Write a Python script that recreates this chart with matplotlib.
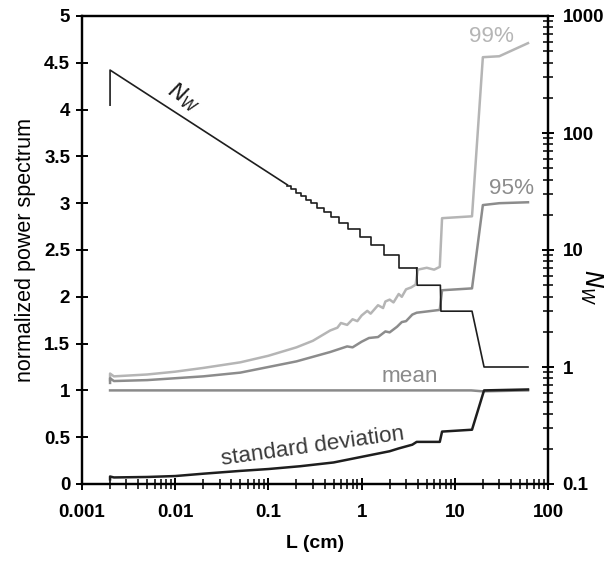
import matplotlib

matplotlib.use("Agg")

import matplotlib.pyplot as plt
from matplotlib.ticker import FixedLocator, LogLocator, NullFormatter

# ---- data ----
# 99% level of the normalized power spectrum
p99_L = [0.002, 0.002, 0.0022, 0.005, 0.01, 0.02, 0.05, 0.1, 0.2, 0.3, 0.46,
         0.55, 0.6, 0.7, 0.8, 0.9, 1.0, 1.15, 1.25, 1.5, 1.7, 1.8, 2.0, 2.2,
         2.5, 2.7, 3.0, 3.4, 3.8, 4.0, 5.0, 6.0, 6.9, 7.3, 15.3, 20.0, 30.0, 61.0]
p99_v = [1.11, 1.18, 1.15, 1.17, 1.20, 1.24, 1.30, 1.37, 1.46, 1.53, 1.64,
         1.67, 1.72, 1.70, 1.76, 1.74, 1.80, 1.85, 1.82, 1.91, 1.88, 1.95, 1.97, 1.94,
         2.03, 2.00, 2.08, 2.10, 2.13, 2.29, 2.31, 2.29, 2.32, 2.84, 2.86, 4.56, 4.57, 4.71]

# 95% level
p95_L = [0.002, 0.002, 0.0022, 0.005, 0.01, 0.02, 0.05, 0.1, 0.2, 0.46, 0.7,
         0.8, 1.0, 1.2, 1.5, 1.8, 2.0, 2.4, 2.7, 3.0, 3.5, 3.9, 6.9, 7.3, 15.3,
         20.0, 30.0, 61.0]
p95_v = [1.08, 1.13, 1.10, 1.11, 1.13, 1.15, 1.19, 1.25, 1.31, 1.41, 1.47,
         1.46, 1.52, 1.56, 1.57, 1.63, 1.62, 1.68, 1.73, 1.74, 1.81, 1.83, 1.86, 2.07, 2.09,
         2.98, 3.00, 3.01]

# mean
mean_L = [0.002, 0.01, 0.1, 1.0, 10.0, 15.0, 20.0, 61.0]
mean_v = [1.00, 1.00, 1.00, 1.00, 1.00, 1.00, 0.99, 1.00]

# standard deviation
std_L = [0.002, 0.002, 0.0022, 0.005, 0.01, 0.02, 0.05, 0.1, 0.22, 0.5, 1.0, 2.0,
         2.5, 3.5, 3.9, 6.9, 7.3, 15.3, 20.6, 61.0]
std_v = [0.05, 0.08, 0.07, 0.075, 0.085, 0.11, 0.14, 0.16, 0.19, 0.23, 0.29, 0.35,
         0.38, 0.42, 0.45, 0.45, 0.56, 0.58, 1.00, 1.01]

# number of windows N_W (right axis): smooth head, staircase, tail
nw_head_L = [0.002, 0.002, 0.16]
nw_head_N = [173, 345, 36]
nw_step_L = [0.16, 0.176, 0.196, 0.222, 0.252, 0.289, 0.335, 0.393, 0.47, 0.57,
             0.72, 0.97, 1.27, 1.75, 2.52, 3.9]
nw_step_N = [35, 33, 31, 29, 27, 25, 23, 21, 19, 17, 15, 13, 11, 9, 7, 7]
nw_tail_L = [3.9, 3.95, 7.0, 7.1, 15.3, 20.6, 61.0]
nw_tail_N = [7, 5, 5, 3, 3, 1, 1]

x_ticks = [0.001, 0.01, 0.1, 1, 10, 100]
x_ticklabels = ["0.001", "0.01", "0.1", "1", "10", "100"]
y_ticks = [0, 0.5, 1, 1.5, 2, 2.5, 3, 3.5, 4, 4.5, 5]
y_ticklabels = ["0", "0.5", "1", "1.5", "2", "2.5", "3", "3.5", "4", "4.5", "5"]
r_ticks = [0.1, 1, 10, 100, 1000]
r_ticklabels = ["0.1", "1", "10", "100", "1000"]

LIGHT = "#b5b5b5"
MID = "#8c8c8c"
MEAN = "#8a8a8a"
DARK = "#1e1e1e"

plt.rcParams["font.family"] = ["Liberation Sans", "DejaVu Sans"]

fig = plt.figure(figsize=(6.11, 5.62), dpi=100)
ax = fig.add_axes([82 / 611, 1 - 484 / 562, (548 - 82) / 611, (484 - 16) / 562])
ax2 = ax.twinx()

ax.plot(p99_L, p99_v, color=LIGHT, lw=1.8, zorder=2)
ax.plot(p95_L, p95_v, color=MID, lw=1.8, zorder=3)
ax.plot(mean_L, mean_v, color=MEAN, lw=1.8, zorder=3)
ax.plot(std_L, std_v, color=DARK, lw=1.8, zorder=4)

ax2.plot(nw_head_L, nw_head_N, color=DARK, lw=1.2)
ax2.plot(nw_step_L, nw_step_N, color=DARK, lw=1.2, drawstyle="steps-post")
ax2.plot(nw_tail_L, nw_tail_N, color=DARK, lw=1.2)

ax.set_xscale("log")
ax.set_xlim(0.001, 100)
ax.set_ylim(0, 5)
ax2.set_yscale("log")
ax2.set_ylim(0.1, 1000)

ax.xaxis.set_major_locator(FixedLocator(x_ticks))
ax.set_xticklabels(x_ticklabels)
ax.xaxis.set_minor_locator(LogLocator(base=10, subs=range(2, 10)))
ax.xaxis.set_minor_formatter(NullFormatter())
ax.set_yticks(y_ticks)
ax.set_yticklabels(y_ticklabels)
ax2.yaxis.set_major_locator(FixedLocator(r_ticks))
ax2.set_yticklabels(r_ticklabels)
ax2.yaxis.set_minor_locator(LogLocator(base=10, subs=range(2, 10)))
ax2.yaxis.set_minor_formatter(NullFormatter())

for a in (ax, ax2):
    for s in a.spines.values():
        s.set_linewidth(1.6)
    a.tick_params(which="major", direction="inout", length=9, width=1.4,
                  labelsize=13.5)
    a.tick_params(which="minor", direction="inout", length=7, width=1.1)
for lab in ax.get_xticklabels() + ax.get_yticklabels() + ax2.get_yticklabels():
    lab.set_fontweight("bold")
ax.tick_params(axis="x", pad=10)
ax.tick_params(axis="y", pad=4)
ax2.tick_params(axis="y", pad=6)

ax.set_xlabel("L (cm)", fontsize=14, fontweight="bold", labelpad=10)
ax.set_ylabel("normalized power spectrum", fontsize=15.5, labelpad=6)
ax2.set_ylabel(r"$N_W$", fontsize=17, rotation=-90, labelpad=14)
ax2.yaxis.set_label_coords(1.12, 0.42)

ax.text(25, 4.78, "99%", color=LIGHT, fontsize=16.2, ha="center", va="center")
ax.text(41, 3.16, "95%", color=MID, fontsize=16.2, ha="center", va="center")
ax.text(3.3, 1.15, "mean", color=MEAN, fontsize=16.2, ha="center", va="center")
ax.text(0.3, 0.40, "standard deviation", color="#3a3a3a", fontsize=16.2,
        ha="center", va="center", rotation=8)
ax2.text(0.0124, 203, r"$N_W$", color=DARK, fontsize=16, ha="center",
         va="center", rotation=-33)

fig.savefig("out.png", dpi=100)
